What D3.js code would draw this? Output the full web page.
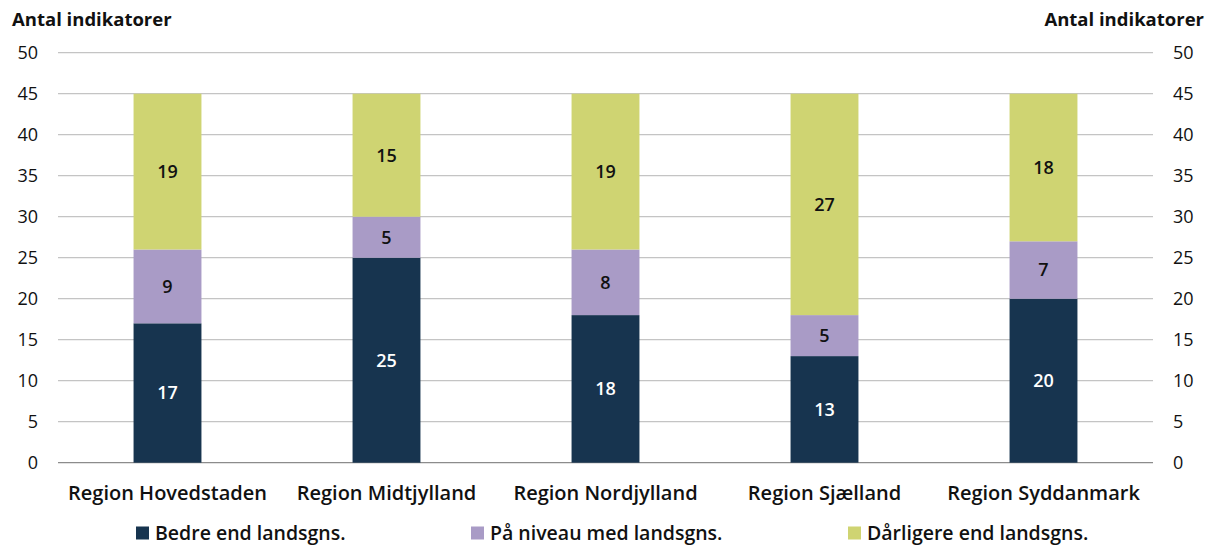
<!DOCTYPE html>
<html>
<head>
<meta charset="utf-8">
<script src="https://cdn.jsdelivr.net/npm/d3@7"></script>
<style>
  body { margin: 0; background: #fff; }
  svg { font-family: "Open Sans", "Noto Sans", sans-serif; }
</style>
</head>
<body>
<svg id="chart" width="1214" height="545"></svg>
<script>
// regions and counts per group
var regions = ["Region Hovedstaden", "Region Midtjylland", "Region Nordjylland", "Region Sjælland", "Region Syddanmark"];
var bedre = [17, 25, 18, 13, 20];
var niveau = [9, 5, 8, 5, 7];
var daarligere = [19, 15, 19, 27, 18];
var seriesNames = ["Bedre end landsgns.", "På niveau med landsgns.", "Dårligere end landsgns."];
var yTicks = [0, 5, 10, 15, 20, 25, 30, 35, 40, 45, 50];

var colors = ["#17344f", "#a99bc6", "#cfd472"];
var labelColors = ["#fff", "#111", "#111"];

var svg = d3.select("#chart");
var plotLeft = 58, plotRight = 1153, plotTop = 52.7, plotBottom = 462.7;

var x = d3.scaleBand().domain(regions).range([plotLeft, plotRight]).paddingInner(0.69).paddingOuter(0.345);
var y = d3.scaleLinear().domain([0, 50]).range([plotBottom, plotTop]);

var rows = regions.map(function (r, i) {
    return { region: r, s0: bedre[i], s1: niveau[i], s2: daarligere[i] };
});
var stack = d3.stack().keys(["s0", "s1", "s2"]);
var layers = stack(rows);

// gridlines
svg.append("g").selectAll("line")
    .data(yTicks)
    .enter().append("line")
    .attr("x1", plotLeft).attr("x2", plotRight)
    .attr("y1", function (d) { return y(d); })
    .attr("y2", function (d) { return y(d); })
    .attr("stroke", function (d) { return d === 0 ? "#8c8c8c" : "#c4c4c4"; })
    .attr("stroke-width", 1.3);

// left and right axes (labels only)
var leftAxis = svg.append("g").attr("transform", "translate(" + (plotLeft - 20) + ",0)")
    .call(d3.axisLeft(y).tickValues(yTicks).tickSize(0).tickPadding(0));
var rightAxis = svg.append("g").attr("transform", "translate(" + (plotRight + 20) + ",0)")
    .call(d3.axisRight(y).tickValues(yTicks).tickSize(0).tickPadding(0));
[leftAxis, rightAxis].forEach(function (a) {
    a.select(".domain").remove();
    a.selectAll("text").attr("font-size", 18).attr("fill", "#111")
        .attr("font-family", "'Open Sans', sans-serif");
});

// bars
var layerG = svg.append("g").selectAll("g.layer")
    .data(layers)
    .enter().append("g")
    .attr("class", "layer")
    .attr("fill", function (d, i) { return colors[i]; });

layerG.selectAll("rect")
    .data(function (d) { return d; })
    .enter().append("rect")
    .attr("x", function (d) { return x(d.data.region); })
    .attr("width", x.bandwidth())
    .attr("y", function (d) { return y(d[1]); })
    .attr("height", function (d) { return y(d[0]) - y(d[1]); });

// value labels
layers.forEach(function (layer, li) {
    svg.append("g").selectAll("text")
        .data(layer)
        .enter().append("text")
        .attr("x", function (d) { return x(d.data.region) + x.bandwidth() / 2; })
        .attr("y", function (d) { return y((d[0] + d[1]) / 2); })
        .attr("dy", "0.35em")
        .attr("text-anchor", "middle")
        .attr("font-size", 18)
        .attr("font-weight", 600)
        .attr("fill", labelColors[li])
        .text(function (d) { return d[1] - d[0]; });
});

// category labels
svg.append("g").selectAll("text")
    .data(regions)
    .enter().append("text")
    .attr("x", function (d) { return x(d) + x.bandwidth() / 2; })
    .attr("y", 500)
    .attr("text-anchor", "middle")
    .attr("font-size", 20)
    .attr("font-weight", 600)
    .attr("fill", "#111")
    .text(function (d) { return d; });

// axis titles
svg.append("text").attr("x", 12).attr("y", 26)
    .attr("font-size", 18.5).attr("font-weight", 700).attr("fill", "#111")
    .text("Antal indikatorer");
svg.append("text").attr("x", 1204).attr("y", 26)
    .attr("text-anchor", "end")
    .attr("font-size", 18.5).attr("font-weight", 700).attr("fill", "#111")
    .text("Antal indikatorer");

// legend
var legendX = [136, 471, 848];
var legend = svg.append("g").selectAll("g")
    .data(seriesNames)
    .enter().append("g")
    .attr("transform", function (d, i) { return "translate(" + legendX[i] + ",526.5)"; });
legend.append("rect").attr("width", 13).attr("height", 13)
    .attr("fill", function (d, i) { return colors[i]; });
legend.append("text").attr("x", 19).attr("y", 6.5).attr("dy", "0.35em")
    .attr("font-size", 19.5).attr("font-weight", 600).attr("fill", "#111")
    .text(function (d) { return d; });
</script>
</body>
</html>
